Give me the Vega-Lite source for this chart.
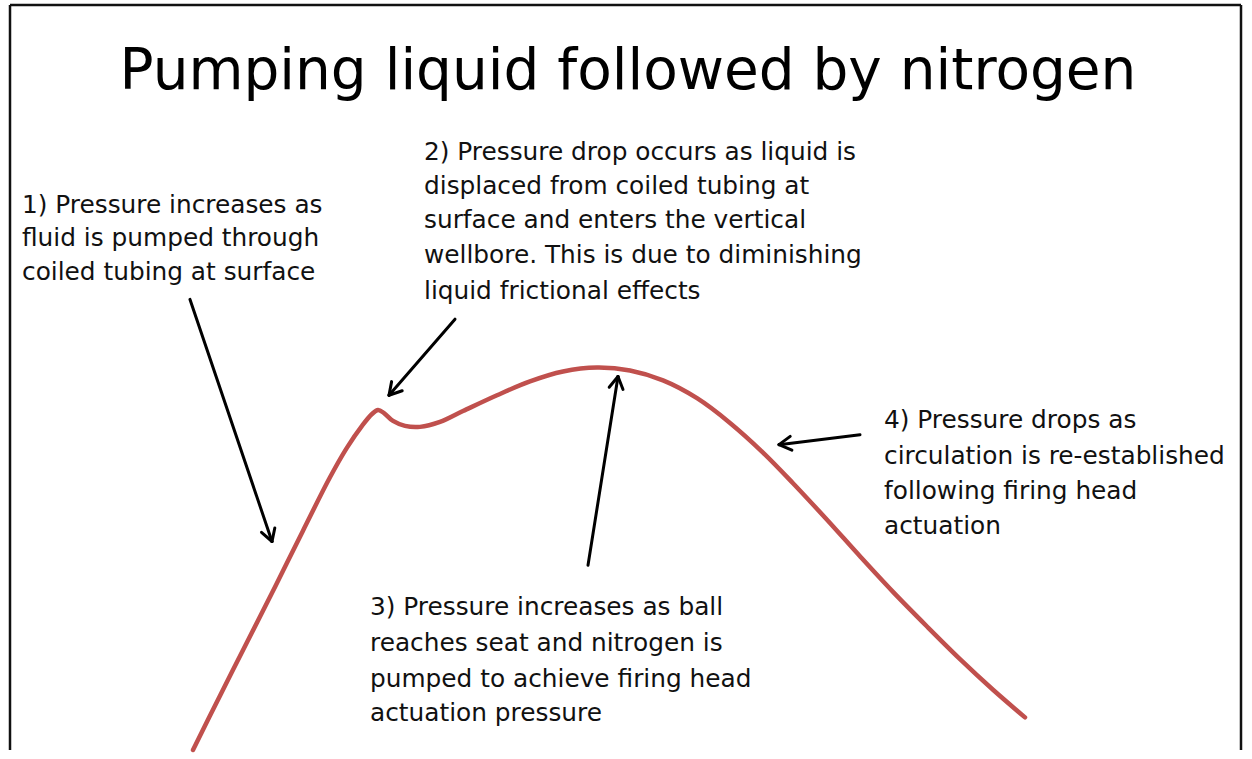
{
  "$schema": "https://vega.github.io/schema/vega-lite/v6.json",
  "width": 1252,
  "height": 759,
  "autosize": {"type": "fit", "contains": "padding"},
  "padding": 0,
  "background": "white",
  "config": {"view": {"stroke": null}},
  "datasets": {
    "curve": [
      {"x": 193, "y": 759}, {"x": 220, "y": 704}, {"x": 247, "y": 650}, {"x": 275, "y": 594},
      {"x": 303, "y": 537}, {"x": 330, "y": 483}, {"x": 347, "y": 453}, {"x": 362, "y": 431},
      {"x": 372, "y": 419}, {"x": 378, "y": 415}, {"x": 384, "y": 418}, {"x": 393, "y": 426},
      {"x": 405, "y": 431}, {"x": 420, "y": 432}, {"x": 440, "y": 427}, {"x": 463, "y": 416},
      {"x": 497, "y": 400}, {"x": 530, "y": 386}, {"x": 563, "y": 376}, {"x": 597, "y": 372},
      {"x": 630, "y": 375}, {"x": 663, "y": 385}, {"x": 697, "y": 403}, {"x": 730, "y": 428},
      {"x": 763, "y": 458}, {"x": 793, "y": 489}, {"x": 827, "y": 526}, {"x": 860, "y": 563},
      {"x": 893, "y": 599}, {"x": 927, "y": 634}, {"x": 960, "y": 667}, {"x": 993, "y": 698},
      {"x": 1025, "y": 726}
    ],
    "segments": [
      {"x": 190, "y": 303, "x2": 272, "y2": 548},
      {"x": 274.8, "y": 534.3, "x2": 272, "y2": 548},
      {"x": 261.5, "y": 538.7, "x2": 272, "y2": 548},
      {"x": 455, "y": 323, "x2": 389, "y2": 400},
      {"x": 402.2, "y": 395.4, "x2": 389, "y2": 400},
      {"x": 391.6, "y": 386.2, "x2": 389, "y2": 400},
      {"x": 588, "y": 572, "x2": 618, "y2": 381},
      {"x": 609.2, "y": 391.9, "x2": 618, "y2": 381},
      {"x": 623, "y": 394.1, "x2": 618, "y2": 381},
      {"x": 860, "y": 440, "x2": 779, "y2": 450},
      {"x": 791.9, "y": 455.5, "x2": 779, "y2": 450},
      {"x": 790.2, "y": 441.6, "x2": 779, "y2": 450}
    ],
    "border": [
      {"x": 10, "y": 5, "x2": 10, "y2": 759},
      {"x": 10, "y": 5, "x2": 1241, "y2": 5},
      {"x": 1241, "y": 5, "x2": 1241, "y2": 759}
    ],
    "title": [
      {"x": 628, "y": 73, "text": "Pumping liquid followed by nitrogen"}
    ],
    "notes": [
      {"x": 22, "y": 208, "text": "1) Pressure increases as"},
      {"x": 22, "y": 242, "text": "fluid is pumped through"},
      {"x": 22, "y": 276, "text": "coiled tubing at surface"},
      {"x": 424, "y": 155, "text": "2) Pressure drop occurs as liquid is"},
      {"x": 424, "y": 189, "text": "displaced from coiled tubing at"},
      {"x": 424, "y": 224, "text": "surface and enters the vertical"},
      {"x": 424, "y": 259, "text": "wellbore. This is due to diminishing"},
      {"x": 424, "y": 295, "text": "liquid frictional  effects"},
      {"x": 370, "y": 615, "text": "3) Pressure increases as ball"},
      {"x": 370, "y": 652, "text": "reaches seat and nitrogen is"},
      {"x": 370, "y": 688, "text": "pumped to achieve firing head"},
      {"x": 370, "y": 723, "text": "actuation pressure"},
      {"x": 884, "y": 426, "text": "4) Pressure drops as"},
      {"x": 884, "y": 462, "text": "circulation is re-established"},
      {"x": 884, "y": 498, "text": "following firing head"},
      {"x": 884, "y": 533, "text": "actuation"}
    ]
  },
  "layer": [
    {
      "data": {"name": "border"},
      "mark": {"type": "rule", "color": "#111111", "strokeWidth": 2.5},
      "encoding": {
        "x": {"field": "x", "type": "quantitative", "scale": {"domain": [0, 1252], "nice": false, "zero": false}, "axis": null},
        "y": {"field": "y", "type": "quantitative", "scale": {"domain": [0, 759], "nice": false, "zero": false, "reverse": true}, "axis": null},
        "x2": {"field": "x2"},
        "y2": {"field": "y2"}
      }
    },
    {
      "data": {"name": "curve"},
      "mark": {"type": "line", "color": "#C0504D", "strokeWidth": 4.5, "interpolate": "catmull-rom", "strokeCap": "round"},
      "encoding": {
        "x": {"field": "x", "type": "quantitative"},
        "y": {"field": "y", "type": "quantitative"}
      }
    },
    {
      "data": {"name": "segments"},
      "mark": {"type": "rule", "color": "black", "strokeWidth": 3, "strokeCap": "round"},
      "encoding": {
        "x": {"field": "x", "type": "quantitative"},
        "y": {"field": "y", "type": "quantitative"},
        "x2": {"field": "x2"},
        "y2": {"field": "y2"}
      }
    },
    {
      "data": {"name": "title"},
      "mark": {"type": "text", "font": "DejaVu Sans", "fontSize": 56.5, "color": "black", "align": "center", "baseline": "middle"},
      "encoding": {
        "x": {"field": "x", "type": "quantitative"},
        "y": {"field": "y", "type": "quantitative"},
        "text": {"field": "text"}
      }
    },
    {
      "data": {"name": "notes"},
      "mark": {"type": "text", "font": "DejaVu Sans", "fontSize": 24.8, "color": "#111111", "align": "left", "baseline": "middle"},
      "encoding": {
        "x": {"field": "x", "type": "quantitative"},
        "y": {"field": "y", "type": "quantitative"},
        "text": {"field": "text"}
      }
    }
  ]
}
